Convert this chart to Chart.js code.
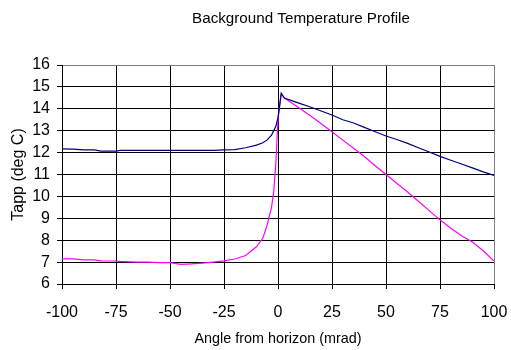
<!DOCTYPE html>
<html><head><meta charset="utf-8">
<script src="https://cdn.jsdelivr.net/npm/chart.js@4"></script>
<style>html,body{margin:0;padding:0;background:#fff}#wrap{width:511px;height:350px}</style>
</head><body><div id="wrap"><canvas id="c" width="511" height="350"></canvas></div>
<script>
const chartTitle = 'Background Temperature Profile';
const xTitle = 'Angle from horizon (mrad)';
const yTitle = 'Tapp (deg C)';
const angles = [-100,-95,-90,-85,-82,-75,-73,-65,-60,-55,-50,-45,-40,-35,-30,-25,-20,-15,-10,-7,-5,-3,-2,-1,0,1.5,3,5,10,15,20,25,30,35,40,45,50,55,60,65,70,75,80,85,90,95,100];
const navy = [12.17,12.16,12.12,12.12,12.07,12.07,12.1,12.1,12.1,12.1,12.1,12.1,12.1,12.1,12.1,12.12,12.14,12.22,12.34,12.45,12.58,12.8,13.0,13.2,13.6,14.7,14.48,14.42,14.25,14.08,13.9,13.72,13.5,13.35,13.15,12.95,12.76,12.6,12.42,12.22,12.03,11.83,11.65,11.48,11.3,11.12,10.96];
const magenta = [7.15,7.15,7.1,7.1,7.06,7.05,7.03,7.0,7.0,6.98,6.98,6.9,6.92,6.95,7.0,7.06,7.14,7.3,7.7,8.1,8.7,9.5,10.2,11.5,13.5,14.7,14.5,14.36,14.03,13.68,13.32,12.95,12.57,12.2,11.82,11.4,11.0,10.6,10.2,9.78,9.35,8.93,8.55,8.2,7.92,7.52,7.05];
const xTicks = [-100,-75,-50,-25,0,25,50,75,100];
const yTicks = [6,7,8,9,10,11,12,13,14,15,16];

const toPts = ys => angles.map((a,i)=>({x:a,y:ys[i]}));
const FONT = 'Liberation Sans, Arial, sans-serif';

const titlePlugin = {
  id:'customTitle',
  afterDraw(chart){
    const ctx = chart.ctx;
    ctx.save();
    ctx.font = '15.2px ' + FONT;
    ctx.fillStyle = '#000';
    ctx.textAlign = 'center';
    ctx.textBaseline = 'middle';
    ctx.fillText(chartTitle, 301, 19);
    ctx.restore();
  }
};

new Chart(document.getElementById('c'), {
  type:'scatter',
  data:{datasets:[
    {label:'navy', data:toPts(navy), showLine:true, borderColor:'#000080', backgroundColor:'#000080', borderWidth:1.2, pointRadius:0, tension:0},
    {label:'magenta', data:toPts(magenta), showLine:true, borderColor:'#FF00FF', backgroundColor:'#FF00FF', borderWidth:1.2, pointRadius:0, tension:0}
  ]},
  options:{
    responsive:false, animation:false, devicePixelRatio:1,
    layout:{padding:{top:65, right:17, left:0, bottom:0}},
    plugins:{legend:{display:false}, tooltip:{enabled:false}, title:{display:false}},
    scales:{
      x:{type:'linear', min:-100, max:100,
        afterBuildTicks(s){ s.ticks = xTicks.map(v=>({value:v})); },
        afterFit(s){ s.height = 66; s.paddingRight = 0; s.paddingLeft = 0; },
        ticks:{color:'#000', font:{family:FONT, size:16}, padding:14, maxRotation:0, autoSkip:false},
        grid:{color:(c)=> c.tick && c.tick.value===100 ? '#808080' : '#000', lineWidth:1, tickLength:5, tickColor:'#000'},
        border:{color:'#000', width:1},
        title:{display:true, text:xTitle, color:'#000', font:{family:FONT, size:14.4}, padding:{top:0,bottom:2}}
      },
      y:{type:'linear', min:6, max:16,
        afterBuildTicks(s){ s.ticks = yTicks.map(v=>({value:v})); },
        afterFit(s){ s.width = 62; s.paddingTop = 0; s.paddingBottom = 0; },
        ticks:{color:'#000', font:{family:FONT, size:16}, padding:7, autoSkip:false},
        grid:{color:(c)=> c.tick && c.tick.value===16 ? '#808080' : '#000', lineWidth:1, tickLength:5, tickColor:'#000'},
        border:{color:'#000', width:1},
        title:{display:true, text:yTitle, color:'#000', font:{family:FONT, size:16}, padding:{top:9,bottom:0}}
      }
    }
  },
  plugins:[titlePlugin]
});
</script></body></html>
